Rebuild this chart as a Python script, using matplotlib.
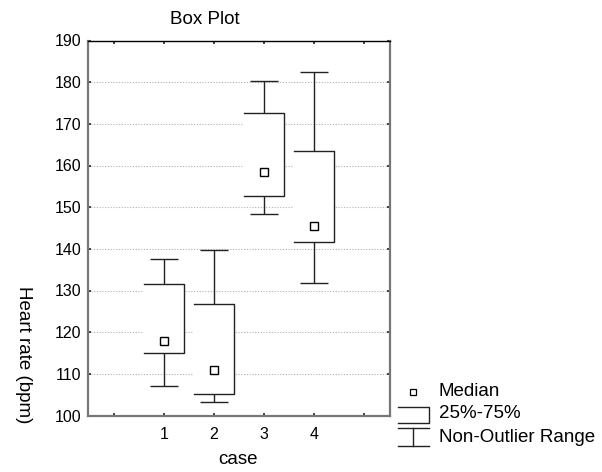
import matplotlib
matplotlib.use("Agg")
import matplotlib.pyplot as plt
from matplotlib.patches import Rectangle

plt.rcParams['font.family'] = ['Liberation Sans', 'DejaVu Sans']
plt.rcParams['font.size'] = 13.5

# box plot summary per case
cases = [1, 2, 3, 4]
medians = [117.8, 111.0, 158.5, 145.5]
q25 = [114.9, 105.2, 152.8, 141.6]
q75 = [131.6, 126.8, 172.5, 163.5]
whisker_low = [107.2, 103.2, 148.4, 131.7]
whisker_high = [137.6, 139.8, 180.3, 182.5]

y_ticks = list(range(100, 191, 10))
x_ticks = [0, 1, 2, 3, 4, 5]
x_tick_labels = ["", "1", "2", "3", "4", ""]

W, H = 602, 472
fig = plt.figure(figsize=(W / 100, H / 100), dpi=100)
ax = fig.add_axes([88 / W, (H - 415.5) / H, 302 / W, 375 / H])

line_kw = dict(color="#222222", lw=1.0)
box_half = 0.4
cap_half = 0.28

for x, med, lo, hi, wlo, whi in zip(cases, medians, q25, q75, whisker_low, whisker_high):
    # white box body, left edge left open
    ax.add_patch(Rectangle((x - box_half, lo), 2 * box_half, hi - lo,
                           facecolor="white", edgecolor="none", zorder=2))
    ax.plot([x - box_half, x + box_half, x + box_half, x - box_half],
            [hi, hi, lo, lo], zorder=3, **line_kw)
    # whiskers and caps
    ax.vlines(x, hi, whi, zorder=3, **line_kw)
    ax.vlines(x, wlo, lo, zorder=3, **line_kw)
    ax.hlines([whi, wlo], x - cap_half, x + cap_half, zorder=3, **line_kw)
    ax.plot(x, med, marker="s", ms=6, mfc="white", mec="black", mew=1.0,
            ls="none", zorder=4)

ax.set_xlim(-0.52, 5.52)
ax.set_ylim(100, 190)
ax.set_xticks(x_ticks)
ax.set_xticklabels(x_tick_labels)
ax.set_yticks(y_ticks)
ax.yaxis.grid(True, ls=(0, (1, 1.5)), color="#b0b0b0", lw=0.8, zorder=0)
ax.set_axisbelow(True)
ax.tick_params(direction="in", top=True, right=True, length=2.5, width=1.2,
               color="#222222", labelsize=11.5)
ax.tick_params(axis="x", pad=8)
ax.tick_params(axis="y", pad=5)
for name, s in ax.spines.items():
    if name == "top":
        s.set_color("black")
        s.set_linewidth(1.0)
    else:
        s.set_color("#777777")
        s.set_linewidth(1.6)

fig.text(205 / W, 1 - 20 / H, "Box Plot", ha="center", va="center")
fig.text(238 / W, 1 - 460 / H, "case", ha="center", va="center")
fig.text(23 / W, 1 - 355 / H, "Heart rate (bpm)", ha="center", va="center",
         rotation=-90)

# legend drawn in pixel coordinates
lg = fig.add_axes([0, 0, 1, 1], facecolor="none")
lg.set_xlim(0, W)
lg.set_ylim(H, 0)
lg.axis("off")
lg.plot(413, 392, marker="s", ms=5, mfc="white", mec="black", mew=0.9)
lg.plot([398, 429, 429, 398], [407, 407, 423, 423], **line_kw)
lg.plot([398, 429], [428, 428], **line_kw)
lg.plot([413, 413], [428, 446], **line_kw)
lg.plot([398, 429], [446, 446], **line_kw)
lg.text(439, 392, "Median", va="center")
lg.text(439, 414, "25%-75%", va="center")
lg.text(439, 437, "Non-Outlier Range", va="center")

fig.savefig("out.png", dpi=100)
